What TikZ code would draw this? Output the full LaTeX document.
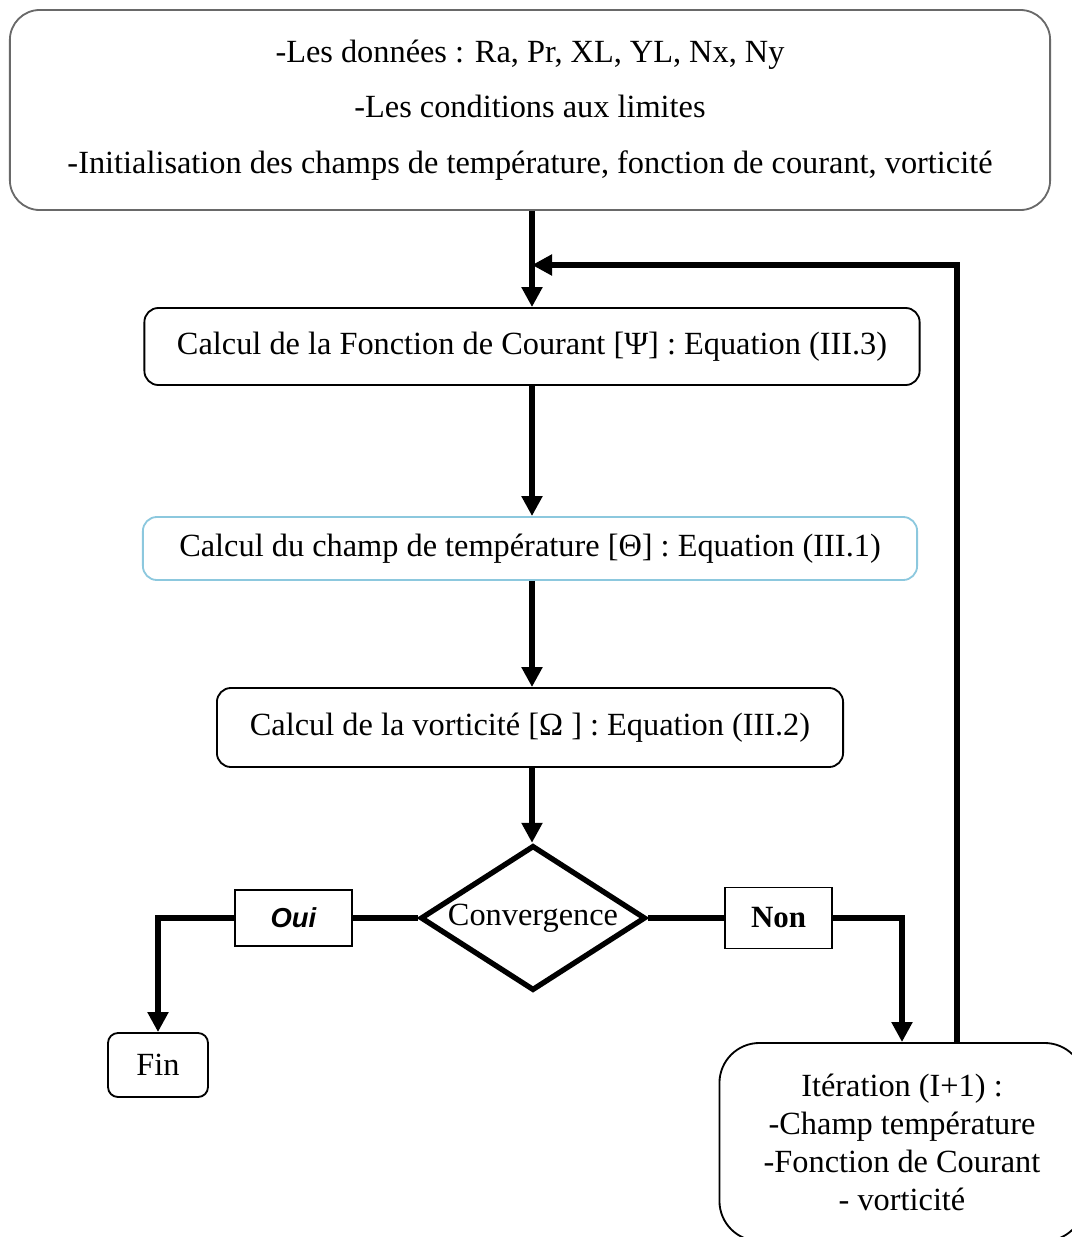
\documentclass[tikz,border=0pt]{standalone}
\usepackage{fontspec}
\setmainfont{Liberation Serif}
\newfontfamily\ouifont{Liberation Sans}
\usepackage{xcolor}
\usetikzlibrary{arrows.meta,positioning,shapes.geometric}
\definecolor{framegray}{RGB}{105,105,105}
\definecolor{lightcyan}{RGB}{140,200,222}

\begin{document}
\begin{tikzpicture}[
  x=0.025cm, y=-0.025cm,
  box/.style={rectangle, draw, line width=1.3pt, rounded corners=0.35cm, align=center, font=\fontsize{23}{28}\selectfont, inner sep=0pt},
  tag/.style={rectangle, draw, line width=0.8pt, inner sep=0pt},
  flow/.style={line width=3.8pt, -{Triangle[length=0.5cm,width=0.5cm]}},
  link/.style={line width=3.8pt},
  >=Stealth
]
\useasboundingbox (0,0) rectangle (1072,1237);

% Nodes
\node[box, draw=framegray, rounded corners=0.75cm, minimum width=26cm, minimum height=5cm, font=\fontsize{23}{39.5}\selectfont] (init) at (530,110) {-Les données : Ra, Pr, XL, YL, Nx, Ny\\-Les conditions aux limites\\-Initialisation des champs de température, fonction de courant, vorticité};
\node[box, minimum width=19.375cm, minimum height=1.925cm] (psi) at (532,346.5) {Calcul de la Fonction de Courant [Ψ] : Equation (III.3)};
\node[box, draw=lightcyan, minimum width=19.35cm, minimum height=1.575cm] (theta) at (530,548.5) {Calcul du champ de température [Θ] : Equation (III.1)};
\node[box, minimum width=15.65cm, minimum height=1.975cm] (omega) at (530,727.5) {Calcul de la vorticité [Ω ] : Equation (III.2)};
\node[diamond, draw, line width=3.8pt, aspect=1.55, minimum width=5.625cm, minimum height=3.625cm, inner sep=0pt, font=\fontsize{23}{28}\selectfont] (conv) at (533,918) {Convergence};
\node[tag, minimum width=2.925cm, minimum height=1.4cm, font=\ouifont\bfseries\itshape\fontsize{19.5}{22}\selectfont] (oui) at (293.5,918) {Oui};
\node[tag, minimum width=2.675cm, minimum height=1.525cm, font=\bfseries\fontsize{22}{26}\selectfont] (non) at (778.5,918) {Non};
\node[box, rounded corners=0.25cm, minimum width=2.5cm, minimum height=1.6cm] (fin) at (158,1065) {Fin};
\node[box, rounded corners=1cm, minimum width=9.125cm, minimum height=4.95cm, font=\fontsize{23}{27}\selectfont] (iter) at (902,1142) {Itération (I+1) :\\-Champ température\\-Fonction de Courant\\- vorticité};
\coordinate (turn) at (957,265);
\coordinate (merge) at (532,265);

% Edges
\draw[flow] (init.south -| psi.north) -- (psi.north);
\draw[flow] (psi.south) -- (psi.south |- theta.north);
\draw[flow] (theta.south -| psi.south) -- (psi.south |- omega.north);
\draw[flow] (omega.south -| psi.south) -- (psi.south |- conv.north);
\draw[link] (conv.west) -- (oui.east);
\draw[flow] (oui.west) -| (fin.north);
\draw[link] (conv.east) -- (non.west);
\draw[flow] (non.east) -| (iter.north);
\draw[flow] (iter.north -| turn) -- (turn) -- (merge);

\end{tikzpicture}
\end{document}
